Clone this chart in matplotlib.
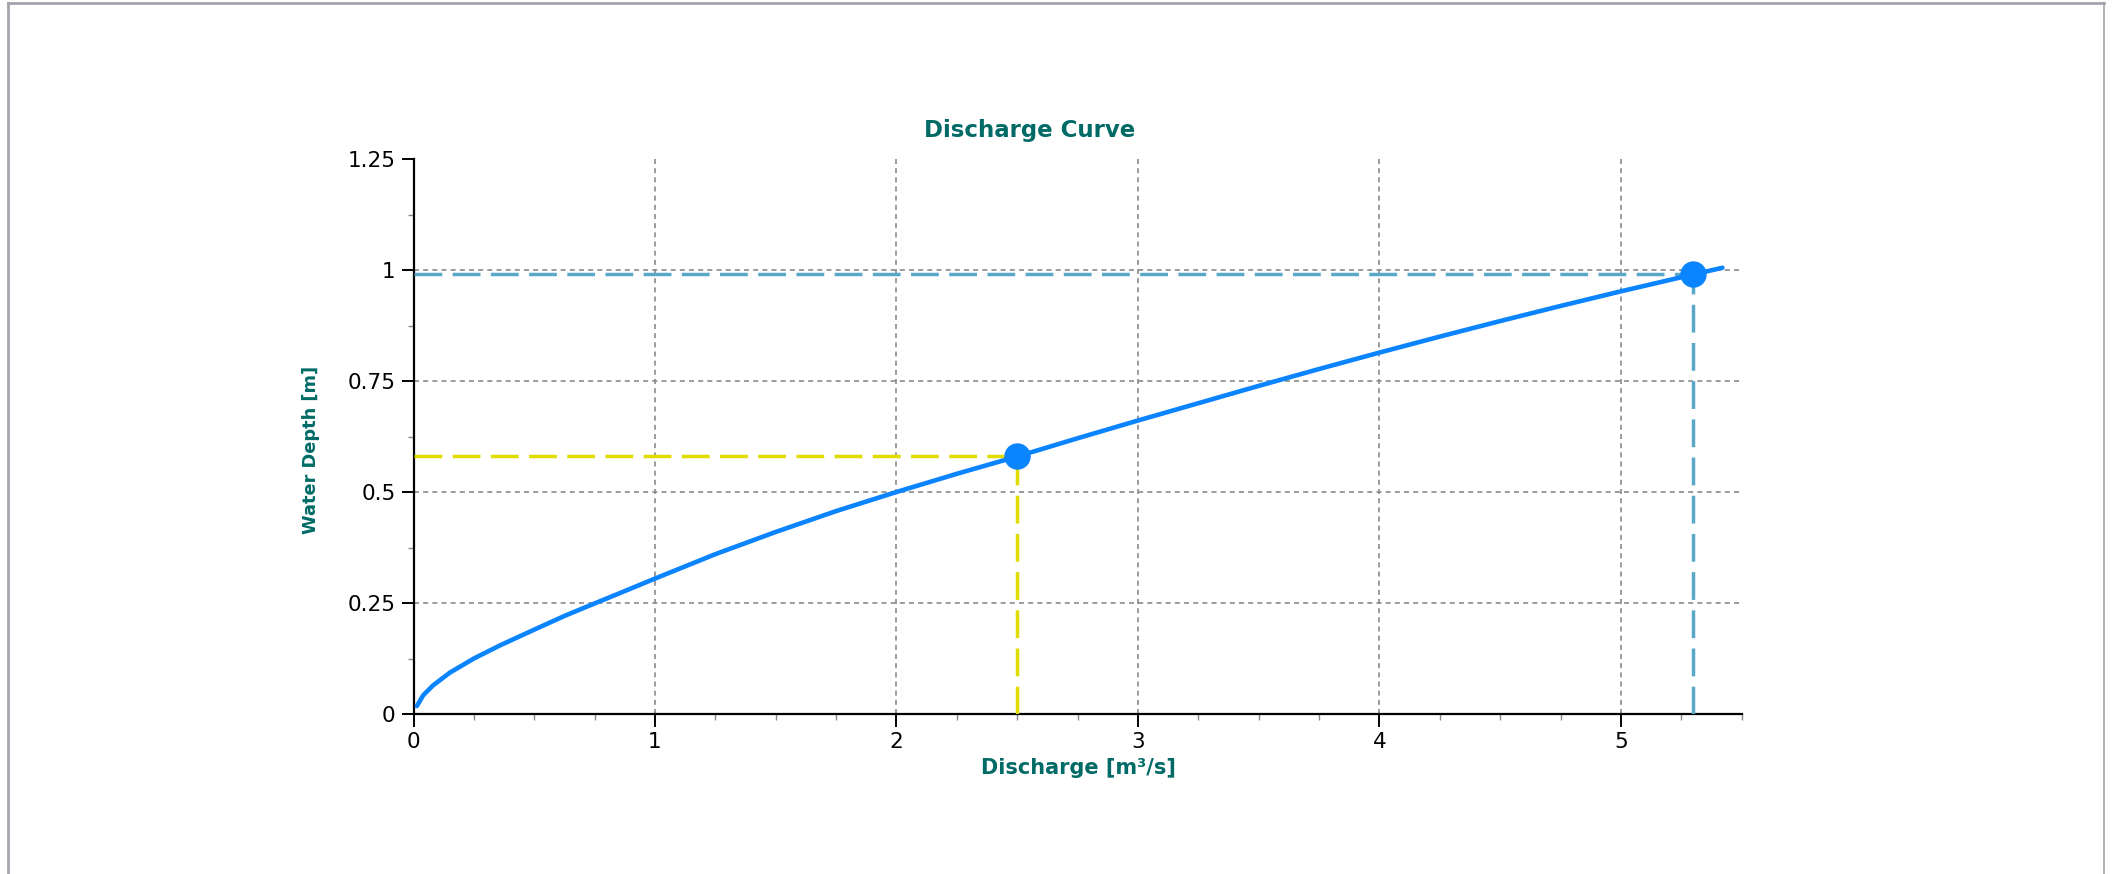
import matplotlib
matplotlib.use("Agg")
import matplotlib.pyplot as plt
from matplotlib.lines import Line2D
from matplotlib.ticker import FixedLocator, MultipleLocator, FuncFormatter

# Rating curve: discharge [m^3/s] vs water depth [m]
discharge = [0.014, 0.04, 0.08, 0.15, 0.25, 0.36, 0.5, 0.63, 0.75, 0.88, 1.0,
             1.25, 1.5, 1.75, 2.0, 2.25, 2.5, 2.75, 3.0, 3.25, 3.5, 3.75, 4.0,
             4.25, 4.5, 4.75, 5.0, 5.3, 5.42]
depth = [0.018, 0.042, 0.064, 0.093, 0.125, 0.155, 0.19, 0.222, 0.249, 0.278,
         0.305, 0.36, 0.41, 0.457, 0.50, 0.541, 0.58, 0.621, 0.661, 0.70,
         0.739, 0.777, 0.814, 0.85, 0.885, 0.919, 0.952, 0.99, 1.005]

# Highlighted operating points
point_q = [2.5, 5.3]
point_h = [0.58, 0.99]
point_colors = ["#e0dc00", "#5aa8c8"]

x_ticks = [0, 1, 2, 3, 4, 5]
y_ticks = [0, 0.25, 0.5, 0.75, 1.0, 1.25]

title_text = "Discharge Curve"
xlabel_text = "Discharge [m³/s]"
ylabel_text = "Water Depth [m]"
teal = "#006b66"
curve_color = "#0a84ff"

fig = plt.figure(figsize=(21.12, 8.74), dpi=100)
W, H = 2112, 874
ax = fig.add_axes([413.5 / W, 1 - 714 / H, (1741.7 - 413.5) / W, (714 - 159) / H])

ax.set_xlim(0, 5.5)
ax.set_ylim(0, 1.25)

ax.xaxis.set_major_locator(FixedLocator(x_ticks))
ax.xaxis.set_minor_locator(MultipleLocator(0.25))
ax.yaxis.set_major_locator(FixedLocator(y_ticks))
ax.yaxis.set_minor_locator(MultipleLocator(0.125))

# grid (no line along the top edge)
ax.set_axisbelow(True)
ax.grid(True, which="major", color="#8a8a8a", linewidth=1.2,
        linestyle=(0, (3, 2.5)))
ax.get_ygridlines()[-1].set_visible(False)
ax.get_ygridlines()[0].set_visible(False)
ax.get_xgridlines()[0].set_visible(False)

# reference dashed lines for the marked points
for q, h, c in zip(point_q, point_h, point_colors):
    ax.plot([0, q], [h, h], color=c, linewidth=2.5, linestyle=(0, (8, 3)),
            zorder=3)
    ax.plot([q, q], [0, h], color=c, linewidth=2.5, linestyle=(0, (8, 3)),
            zorder=3)

ax.plot(discharge, depth, color=curve_color, linewidth=3.3, zorder=4,
        solid_capstyle="round", solid_joinstyle="round")
ax.plot(point_q, point_h, "o", color=curve_color, markersize=19, zorder=5,
        markeredgewidth=0)

# spines and ticks
for s in ("top", "right"):
    ax.spines[s].set_visible(False)
for s in ("left", "bottom"):
    ax.spines[s].set_linewidth(1.6)
    ax.spines[s].set_color("black")


def fmt(v, pos):
    return f"{v:.2f}".rstrip("0").rstrip(".")


ax.xaxis.set_major_formatter(FuncFormatter(fmt))
ax.yaxis.set_major_formatter(FuncFormatter(fmt))

ax.tick_params(which="major", direction="out", length=9, width=1.4,
               color="black", labelsize=15.5, pad=4)
ax.tick_params(which="minor", direction="out", length=4, width=1.0,
               color="#888888")

fig.text(1030 / W, 1 - 130 / H, title_text, ha="center", va="center",
         fontsize=16.5, fontweight="bold", color=teal)
fig.text(1078 / W, 1 - 768 / H, xlabel_text, ha="center", va="center",
         fontsize=15, fontweight="bold", color=teal)
fig.text(311 / W, 1 - 450 / H, ylabel_text, ha="center", va="center",
         rotation=90, fontsize=12.8, fontweight="bold", color=teal)

# frame around the figure
border = "#a4a4ac"
fig.add_artist(Line2D([7.5 / W, 7.5 / W], [0, 1 - 2.5 / H], color=border,
                      linewidth=2, transform=fig.transFigure))
fig.add_artist(Line2D([7.5 / W, 2104 / W], [1 - 2.5 / H, 1 - 2.5 / H],
                      color=border, linewidth=2, transform=fig.transFigure))
fig.add_artist(Line2D([2104 / W, 2104 / W], [0, 1 - 2.5 / H], color=border,
                      linewidth=1.2, transform=fig.transFigure))

fig.savefig("out.png", dpi=100, facecolor="white")
